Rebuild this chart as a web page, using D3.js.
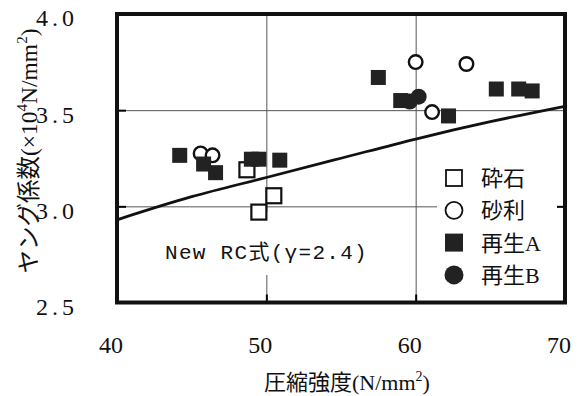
<!DOCTYPE html>
<html>
<head>
<meta charset="utf-8">
<script src="https://cdn.jsdelivr.net/npm/d3@7"></script>
<style>
  body { margin: 0; background: #fff; }
  svg { display: block; }
</style>
</head>
<body>
<div id="chart"></div>
<script>
// data
const crushedX = [48.7, 50.5, 49.5];
const crushedY = [3.19, 3.055, 2.97];

const gravelX = [45.6, 46.4, 60.0, 63.4, 61.1];
const gravelY = [3.275, 3.265, 3.75, 3.74, 3.49];

const recycledAX = [44.2, 45.8, 46.6, 49.0, 49.5, 50.9, 57.5, 59.0, 62.2, 65.4, 66.9, 67.8];
const recycledAY = [3.265, 3.22, 3.175, 3.245, 3.245, 3.24, 3.67, 3.55, 3.47, 3.61, 3.61, 3.60];

const recycledBX = [60.2, 59.6];
const recycledBY = [3.57, 3.545];

// New RC curve, read at a few strengths
const curveX = [40, 45, 50, 55, 60, 65, 70];
const curveY = [2.93, 3.05, 3.15, 3.25, 3.35, 3.44, 3.52];

const xTicks = [40, 50, 60, 70];
const yTicks = [2.5, 3.0, 3.5, 4.0];
const legendNames = ["砕石", "砂利", "再生A", "再生B"];

const W = 583, H = 396;
const serif = "Liberation Serif, Tinos, Times New Roman, DejaVu Serif, serif, Noto Sans CJK JP";

const svg = d3.select("#chart").append("svg")
  .attr("width", W)
  .attr("height", H);

const x = d3.scaleLinear().domain([40, 70]).range([117, 565]);
const y = d3.scaleLinear().domain([2.5, 4.0]).range([302.5, 14]);

// gridlines
svg.append("g")
  .attr("transform", `translate(0,${y(2.5)})`)
  .call(d3.axisBottom(x).tickValues([50, 60]).tickSize(-(y(2.5) - y(4.0))).tickFormat(""))
  .call(g => g.select(".domain").remove())
  .call(g => g.selectAll("line").attr("stroke", "#555").attr("stroke-width", 1));

svg.append("g")
  .attr("transform", `translate(${x(40)},0)`)
  .call(d3.axisLeft(y).tickValues([3.0, 3.5]).tickSize(-(x(70) - x(40))).tickFormat(""))
  .call(g => g.select(".domain").remove())
  .call(g => g.selectAll("line").attr("stroke", "#555").attr("stroke-width", 1));

// short inward ticks
svg.append("g")
  .attr("transform", `translate(0,${y(2.5)})`)
  .call(d3.axisBottom(x).tickValues([50, 60]).tickSize(-8).tickFormat(""))
  .call(g => g.select(".domain").remove())
  .call(g => g.selectAll("line").attr("stroke", "#000").attr("stroke-width", 2));

svg.append("g")
  .attr("transform", `translate(${x(40)},0)`)
  .call(d3.axisLeft(y).tickValues([3.0, 3.5]).tickSize(-9).tickFormat(""))
  .call(g => g.select(".domain").remove())
  .call(g => g.selectAll("line").attr("stroke", "#000").attr("stroke-width", 2));

svg.append("g")
  .attr("transform", `translate(${x(70)},0)`)
  .call(d3.axisRight(y).tickValues([3.0]).tickSize(-8).tickFormat(""))
  .call(g => g.select(".domain").remove())
  .call(g => g.selectAll("line").attr("stroke", "#000").attr("stroke-width", 2));

// label box of the curve (hides grid behind)
svg.append("rect")
  .attr("x", 155).attr("y", 212)
  .attr("width", 232).attr("height", 63)
  .attr("fill", "#fff");

svg.append("text")
  .attr("x", 165)
  .attr("y", 259)
  .attr("font-family", "Liberation Mono, DejaVu Sans Mono, monospace, Noto Sans CJK JP")
  .attr("font-size", 21)
  .attr("letter-spacing", 1.3)
  .attr("fill", "#111")
  .text("New RC式(γ=2.4)");

// New RC curve
const line = d3.line()
  .x(d => x(d[0]))
  .y(d => y(d[1]))
  .curve(d3.curveMonotoneX);

svg.append("path")
  .datum(d3.zip(curveX, curveY))
  .attr("d", line)
  .attr("fill", "none")
  .attr("stroke", "#111")
  .attr("stroke-width", 2.8);

// markers
const sq = 15, rad = 6.8;

svg.append("g").selectAll("rect")
  .data(d3.zip(crushedX, crushedY))
  .join("rect")
  .attr("x", d => x(d[0]) - sq / 2)
  .attr("y", d => y(d[1]) - sq / 2)
  .attr("width", sq).attr("height", sq)
  .attr("fill", "#fff").attr("stroke", "#111").attr("stroke-width", 2.2);

svg.append("g").selectAll("circle")
  .data(d3.zip(gravelX, gravelY))
  .join("circle")
  .attr("cx", d => x(d[0]))
  .attr("cy", d => y(d[1]))
  .attr("r", rad)
  .attr("fill", "#fff").attr("stroke", "#111").attr("stroke-width", 2.4);

svg.append("g").selectAll("rect")
  .data(d3.zip(recycledAX, recycledAY))
  .join("rect")
  .attr("x", d => x(d[0]) - sq / 2)
  .attr("y", d => y(d[1]) - sq / 2)
  .attr("width", sq).attr("height", sq)
  .attr("fill", "#222");

svg.append("g").selectAll("circle")
  .data(d3.zip(recycledBX, recycledBY))
  .join("circle")
  .attr("cx", d => x(d[0]))
  .attr("cy", d => y(d[1]))
  .attr("r", 8)
  .attr("fill", "#222");

// legend
const lg = svg.append("g");
lg.append("rect")
  .attr("x", 437).attr("y", 160)
  .attr("width", 120).attr("height", 132)
  .attr("fill", "#fff");

const rowY = d => 178 + d * 32.3;
legendNames.forEach((name, i) => {
  const cy = rowY(i), cx = 454;
  if (i === 0) {
    lg.append("rect").attr("x", cx - 8).attr("y", cy - 8).attr("width", 16).attr("height", 16)
      .attr("fill", "#fff").attr("stroke", "#111").attr("stroke-width", 1.8);
  } else if (i === 1) {
    lg.append("circle").attr("cx", cx).attr("cy", cy).attr("r", 8.5)
      .attr("fill", "#fff").attr("stroke", "#111").attr("stroke-width", 1.8);
  } else if (i === 2) {
    lg.append("rect").attr("x", cx - 9).attr("y", cy - 9).attr("width", 18).attr("height", 18)
      .attr("fill", "#222");
  } else {
    lg.append("circle").attr("cx", cx).attr("cy", cy).attr("r", 9.5).attr("fill", "#222");
  }
  lg.append("text")
    .attr("x", 481).attr("y", cy)
    .attr("dy", "0.36em")
    .attr("font-family", serif)
    .attr("font-size", 22)
    .attr("fill", "#111")
    .text(name);
});

// frame
svg.append("rect")
  .attr("x", x(40)).attr("y", y(4.0))
  .attr("width", x(70) - x(40)).attr("height", y(2.5) - y(4.0))
  .attr("fill", "none").attr("stroke", "#111").attr("stroke-width", 4);

// tick labels
svg.append("g").selectAll("text")
  .data(yTicks)
  .join("text")
  .attr("x", 78)
  .attr("y", d => y(d) + 4)
  .attr("dy", "0.35em")
  .attr("text-anchor", "end")
  .attr("font-family", serif)
  .attr("font-size", 24)
  .attr("letter-spacing", 4)
  .attr("fill", "#111")
  .text(d => d.toFixed(1));

svg.append("g").selectAll("text")
  .data(xTicks)
  .join("text")
  .attr("x", d => x(d) - 6)
  .attr("y", 345)
  .attr("dy", "0.35em")
  .attr("text-anchor", "middle")
  .attr("font-family", serif)
  .attr("font-size", 24)
  .attr("fill", "#111")
  .text(d => d);

// axis titles
const xt = svg.append("text")
  .attr("x", 347).attr("y", 390)
  .attr("text-anchor", "middle")
  .attr("font-family", serif)
  .attr("font-size", 22)
  .attr("fill", "#111");
xt.append("tspan").text("圧縮強度(N/mm");
xt.append("tspan").attr("dy", -9).attr("font-size", 14).text("2");
xt.append("tspan").attr("dy", 9).text(")");

const yt = svg.append("text")
  .attr("transform", "translate(37,151) rotate(-90)")
  .attr("text-anchor", "middle")
  .attr("font-family", serif)
  .attr("font-size", 23.5)
  .attr("fill", "#111");
yt.append("tspan").text("ヤング係数(×10");
yt.append("tspan").attr("dy", -10).attr("font-size", 15).text("4");
yt.append("tspan").attr("dy", 10).text("N/mm");
yt.append("tspan").attr("dy", -10).attr("font-size", 15).text("2");
yt.append("tspan").attr("dy", 10).text(")");
</script>
</body>
</html>
